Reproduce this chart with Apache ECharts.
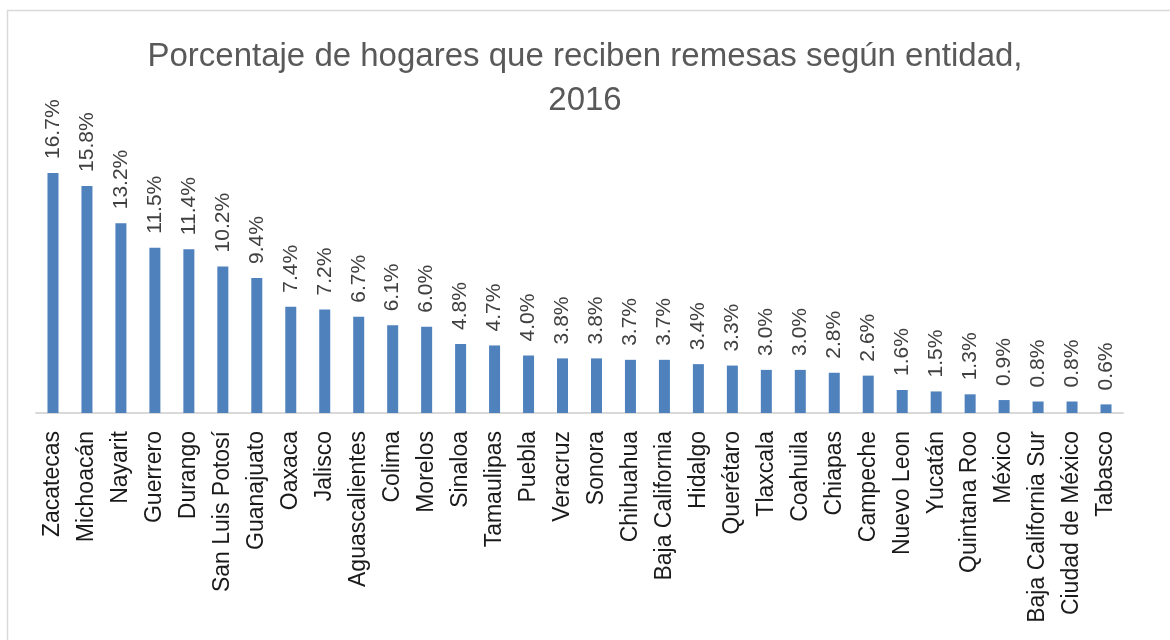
<!DOCTYPE html>
<html>
<head>
<meta charset="utf-8">
<script src="https://cdn.jsdelivr.net/npm/echarts@6/dist/echarts.min.js"></script>
<style>
html,body{margin:0;padding:0;background:#fff;}
#c{width:1170px;height:640px;}
</style>
</head>
<body>
<div id="c"></div>
<script>
const titleText = "Porcentaje de hogares que reciben remesas según entidad,\n2016";
const categories = ["Zacatecas","Michoacán","Nayarit","Guerrero","Durango","San Luis Potosí","Guanajuato","Oaxaca","Jalisco","Aguascalientes","Colima","Morelos","Sinaloa","Tamaulipas","Puebla","Veracruz","Sonora","Chihuahua","Baja California","Hidalgo","Querétaro","Tlaxcala","Coahuila","Chiapas","Campeche","Nuevo Leon","Yucatán","Quintana Roo","México","Baja California Sur","Ciudad de México","Tabasco"];
const values = [16.7,15.8,13.2,11.5,11.4,10.2,9.4,7.4,7.2,6.7,6.1,6.0,4.8,4.7,4.0,3.8,3.8,3.7,3.7,3.4,3.3,3.0,3.0,2.8,2.6,1.6,1.5,1.3,0.9,0.8,0.8,0.6];

const chart = echarts.init(document.getElementById('c'), null, {renderer:'canvas'});
chart.setOption({
  animation:false,
  backgroundColor:'#ffffff',
  graphic:[{type:'rect',shape:{x:7.5,y:10.5,width:1200,height:700},style:{fill:'none',stroke:'#d9d9d9',lineWidth:1.5},silent:true}],
  title:{
    text:titleText,
    left:'center',
    top:30,
    textStyle:{fontFamily:'Liberation Sans',fontSize:33,fontWeight:'normal',color:'#595959',lineHeight:44},
  },
  grid:{left:36,right:47,top:154.3,bottom:227,containLabel:false},
  xAxis:{
    type:'category',
    data:categories,
    axisLine:{show:true,lineStyle:{color:'#d9d9d9',width:2}},
    axisTick:{show:false},
    axisLabel:{rotate:90,interval:0,margin:18,fontFamily:'Liberation Sans',fontSize:23,color:'#1a1a1a'}
  },
  yAxis:{
    type:'value',min:0,max:18,
    show:false,
    splitLine:{show:false}
  },
  series:[{
    type:'bar',
    data:values,
    barWidth:11,
    itemStyle:{color:'#4f81bd'},
    label:{
      show:true,position:'top',rotate:90,align:'left',verticalAlign:'middle',distance:14,
      fontFamily:'Liberation Sans',fontSize:21,color:'#404040',
      formatter:p=>p.value.toFixed(1)+'%'
    }
  }]
});
</script>
</body>
</html>
